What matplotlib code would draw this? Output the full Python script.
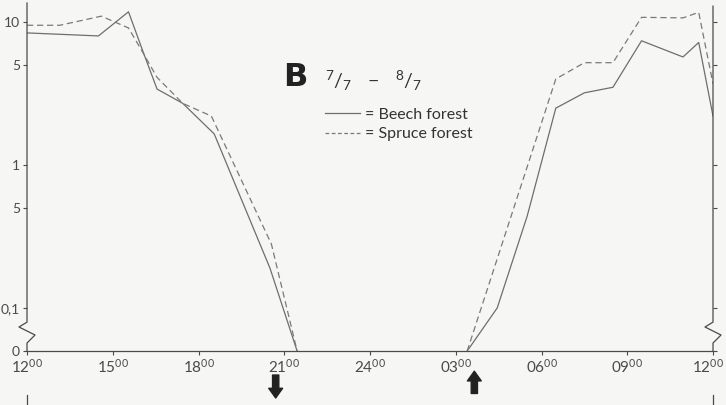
import matplotlib
matplotlib.use('Agg')
import matplotlib.pyplot as plt
from matplotlib.lines import Line2D
import numpy as np

# hours after 12:00 on day 1
beech_hours = [0, 2.5, 3.55, 4.1, 4.55, 5.45, 6.55, 8.5, 9.45, 15.4, 16.45, 17.5, 18.5, 19.5, 20.5, 21.5, 22.95, 23.5, 24]
beech = [8.4, 8.0, 11.8, 5.9, 3.4, 2.7, 1.65, 0.19, 0, 0, 0.1, 0.44, 2.5, 3.2, 3.5, 7.4, 5.7, 7.2, 2.2]

spruce_hours = [0, 1.15, 2.6, 3.55, 4.1, 4.55, 5.45, 6.45, 8.55, 9.45, 15.4, 18.5, 19.5, 20.5, 21.5, 22.95, 23.5, 24]
spruce = [9.5, 9.5, 11.0, 9.1, 5.9, 4.1, 2.7, 2.2, 0.28, 0, 0, 4.0, 5.2, 5.2, 10.8, 10.7, 11.7, 3.7]

x_ticks = [0, 3, 6, 9, 12, 15, 18, 21, 24]
x_labels = ['12', '15', '18', '21', '24', '03', '06', '09', '12']
y_ticks = [10, 5, 1, 0.5, 0.1, 0]
y_labels = ['10', '5', '1', '5', '0,1', '0']

sunset_h = 8.7
sunrise_h = 15.65

ink = '#4a4a4a'
paper = '#f6f6f4'

plt.rcParams['font.family'] = ['Lato', 'DejaVu Sans']
plt.rcParams['mathtext.fontset'] = 'custom'


def fwd(v):
    # log scale, with zero put below a break
    return np.log10(np.clip(np.asarray(v, dtype=float), 0.05, None))


def inv(t):
    return 10 ** np.asarray(t, dtype=float)


def hour_label(s):
    return r'$\mathregular{%s^{00}}$' % s


fig = plt.figure(figsize=(7.26, 4.05), dpi=100, facecolor=paper)
ax = fig.add_axes([0.0372, 0.1333, 0.9449, 0.8593])
ax.set_facecolor(paper)
ax.set_yscale('function', functions=(fwd, inv))

# evening and morning parts drawn apart, nothing is drawn along zero at night
ax.plot(beech_hours[:9], beech[:9], color='#6e6e6e', lw=0.9)
ax.plot(beech_hours[9:], beech[9:], color='#6e6e6e', lw=0.9)
ax.plot(spruce_hours[:10], spruce[:10], color='#7a7a7a', lw=0.9, dashes=(5, 3))
ax.plot(spruce_hours[10:], spruce[10:], color='#7a7a7a', lw=0.9, dashes=(5, 3))

ax.set_xlim(0, 24)
ax.set_ylim(0, 13.6)

ax.set_xticks(x_ticks)
# last label sits against the right edge, placed by hand a little to the left
ax.set_xticklabels([hour_label(s) for s in x_labels[:-1]] + [''], fontsize=11, color=ink)
ax.annotate(hour_label(x_labels[-1]), xy=(x_ticks[-1], 0), xycoords=('data', 'axes fraction'),
            xytext=(-4, -5), textcoords='offset points', ha='center', va='top',
            fontsize=11, color=ink, annotation_clip=False)
ax.set_yticks(y_ticks)
ax.set_yticklabels(y_labels, fontsize=10, color=ink)
ax.minorticks_off()
ax.tick_params(axis='both', direction='out', length=3, width=0.8, color=ink, pad=2)
ax.tick_params(axis='y', right=True, labelright=False)

# axes drawn by hand, with the break between 0 and 0,1
for s in ['top', 'left', 'right']:
    ax.spines[s].set_visible(False)
ax.spines['bottom'].set_color(ink)
ax.spines['bottom'].set_linewidth(0.9)

dx = 0.0117
for x0, ytop in [(0, 1.0), (1, 0.991)]:
    ax.plot([x0, x0, x0 - dx, x0 + dx, x0, x0],
            [ytop, 0.083, 0.069, 0.046, 0.023, 0],
            transform=ax.transAxes, color=ink, lw=0.9, clip_on=False)
    ax.plot([x0, x0], [-0.127, -0.16], transform=ax.transAxes, color=ink, lw=0.9, clip_on=False)

# sunset / sunrise arrows
ax.annotate('', xy=(sunset_h, -0.135), xytext=(sunset_h, -0.069),
            xycoords=('data', 'axes fraction'), textcoords=('data', 'axes fraction'),
            arrowprops=dict(facecolor='#222222', edgecolor='#222222', width=4.5, headwidth=10, headlength=7, shrink=0))
ax.annotate('', xy=(sunrise_h, -0.058), xytext=(sunrise_h, -0.122),
            xycoords=('data', 'axes fraction'), textcoords=('data', 'axes fraction'),
            arrowprops=dict(facecolor='#222222', edgecolor='#222222', width=4.5, headwidth=10, headlength=7, shrink=0))

ax.text(0.374, 0.787, 'B', transform=ax.transAxes, fontsize=23, fontweight='bold',
        family='DejaVu Sans', color='#222222', va='center', ha='left')
ax.text(0.434, 0.776, r'$\mathregular{^7/_7\ \ -\ \ ^8/_7}$', transform=ax.transAxes,
        fontsize=14, color='#333333', va='center', ha='left')

handles = [Line2D([], [], color='#6e6e6e', lw=0.9),
           Line2D([], [], color='#7a7a7a', lw=0.9, dashes=(3, 2))]
ax.legend(handles, ['= Beech forest', '= Spruce forest'], loc='upper left',
          bbox_to_anchor=(0.434, 0.7), frameon=False, fontsize=11.5,
          handlelength=2.2, handletextpad=0.3, labelspacing=0.35,
          borderpad=0, borderaxespad=0, labelcolor='#333333')

plt.savefig('out.png', dpi=100, facecolor=paper)
